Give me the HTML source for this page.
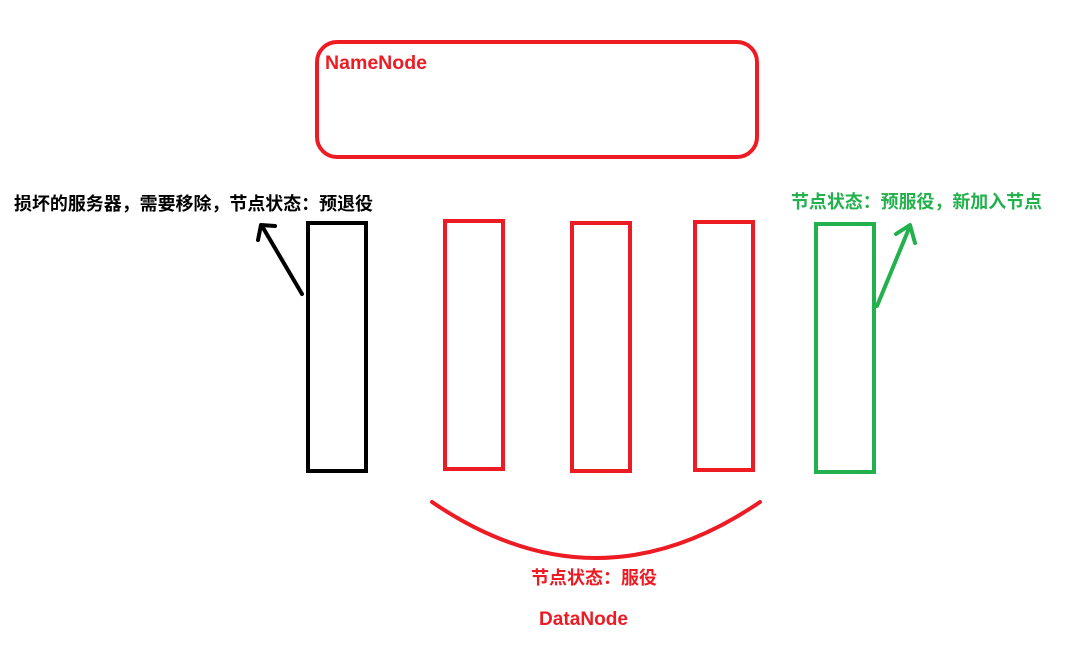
<!DOCTYPE html>
<html><head><meta charset="utf-8"><style>
html,body{margin:0;padding:0;background:#fff;}
svg{display:block}
text{font-family:"Liberation Sans","Noto Sans CJK SC",sans-serif;font-weight:bold;}
</style></head><body>
<svg width="1070" height="646" viewBox="0 0 1070 646" xmlns="http://www.w3.org/2000/svg">
<rect x="317" y="42" width="440" height="115" rx="20" fill="none" stroke="#ed1c24" stroke-width="4"/>
<text x="325" y="69" font-size="19" fill="#ed1c24" textLength="102" lengthAdjust="spacingAndGlyphs">NameNode</text>

<text x="14" y="210" font-size="18" fill="#000" textLength="359" lengthAdjust="spacingAndGlyphs">损坏的服务器，需要移除，节点状态：预退役</text>
<text x="791" y="208" font-size="18" fill="#22b14c" textLength="251" lengthAdjust="spacingAndGlyphs">节点状态：预服役，新加入节点</text>

<rect x="308" y="223" width="58" height="248" fill="none" stroke="#000" stroke-width="4"/>
<rect x="445" y="221" width="58" height="248" fill="none" stroke="#ed1c24" stroke-width="4"/>
<rect x="572" y="223" width="58" height="248" fill="none" stroke="#ed1c24" stroke-width="4"/>
<rect x="695" y="222" width="58" height="248" fill="none" stroke="#ed1c24" stroke-width="4"/>
<rect x="816" y="224" width="58" height="248" fill="none" stroke="#22b14c" stroke-width="4"/>

<g fill="none" stroke="#000" stroke-width="4" stroke-linecap="round" stroke-linejoin="round">
<line x1="302" y1="294" x2="262" y2="226"/>
<polyline points="258,240 261,225 275,226"/>
</g>
<g fill="none" stroke="#22b14c" stroke-width="4" stroke-linecap="round" stroke-linejoin="round">
<line x1="877" y1="306" x2="910" y2="226"/>
<polyline points="896,234 910,225 915,243"/>
</g>

<path d="M432,502 Q596,614 760,502" fill="none" stroke="#ed1c24" stroke-width="4" stroke-linecap="round"/>
<text x="531" y="584" font-size="18" fill="#ed1c24" textLength="126" lengthAdjust="spacingAndGlyphs">节点状态：服役</text>
<text x="539" y="625" font-size="19" fill="#ed1c24" textLength="89" lengthAdjust="spacingAndGlyphs">DataNode</text>
</svg>
</body></html>
